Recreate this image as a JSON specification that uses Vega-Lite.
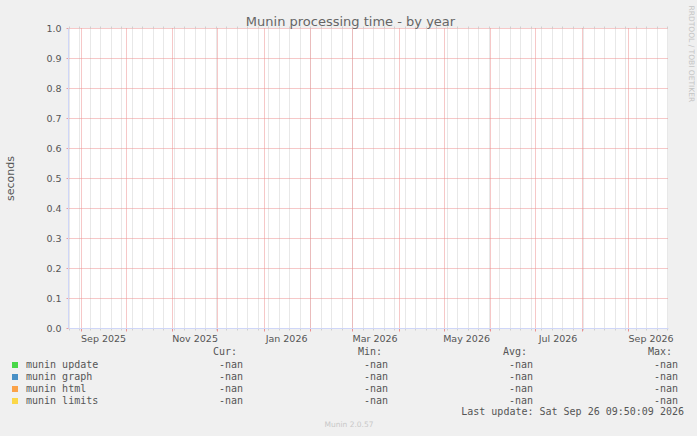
{
  "$schema": "https://vega.github.io/schema/vega-lite/v6.json",
  "background": "#f0f0f0",
  "padding": {"left": 4, "top": 5, "right": 12, "bottom": 12},
  "autosize": {"type": "pad"},
  "bounds": "flush",
  "spacing": 18,
  "config": {
    "font": "DejaVu Sans",
    "view": {"stroke": null},
    "axis": {"labelFont": "DejaVu Sans", "titleFont": "DejaVu Sans"}
  },
  "vconcat": [
    {
      "width": 600,
      "height": 300,
      "view": {"fill": "#ffffff", "stroke": null},
      "data": {
        "values": [
          {"t": "2026-09-26T09:50:09Z", "series": "munin update", "value": null},
          {"t": "2026-09-26T09:50:09Z", "series": "munin graph", "value": null},
          {"t": "2026-09-26T09:50:09Z", "series": "munin html", "value": null},
          {"t": "2026-09-26T09:50:09Z", "series": "munin limits", "value": null}
        ]
      },
      "resolve": {"axis": {"x": "independent", "y": "independent"}},
      "layer": [
        {
          "mark": {"type": "square", "filled": true},
          "encoding": {
            "x": {
              "field": "t",
              "type": "temporal",
              "scale": {
                "type": "utc",
                "domain": [
                  {"year": 2025, "month": 8, "date": 23, "hours": 14, "minutes": 50, "seconds": 9, "utc": true},
                  {"year": 2026, "month": 9, "date": 27, "hours": 14, "minutes": 50, "seconds": 9, "utc": true}
                ]
              },
              "axis": {
                "orient": "bottom",
                "tickCount": {"interval": "week", "step": 1},
                "labels": false,
                "ticks": true,
                "tickSize": 2,
                "tickColor": "#d0d0d0",
                "domain": false,
                "grid": true,
                "gridColor": "#d0d0d0",
                "gridDash": [1, 1],
                "title": null
              }
            },
            "y": {
              "field": "value",
              "type": "quantitative",
              "scale": {"domain": [0, 1], "nice": false, "zero": true},
              "axis": {
                "orient": "left",
                "values": [0, 0.1, 0.2, 0.3, 0.4, 0.5, 0.6, 0.7, 0.8, 0.9, 1.0],
                "format": ".1f",
                "labelFontSize": 9.5,
                "labelColor": "#555555",
                "labelPadding": 5,
                "tickSize": 2,
                "tickColor": "#e8a0a0",
                "domainColor": "#cfd6f8",
                "grid": true,
                "gridColor": "#ec9090",
                "gridDash": [1, 1],
                "title": "seconds",
                "titleFontSize": 11,
                "titleFontWeight": "normal",
                "titleColor": "#555555",
                "titleAngle": -90,
                "titleAlign": "center",
                "titleBaseline": "middle",
                "titleX": -57.5,
                "titleY": 150
              }
            },
            "color": {
              "field": "series",
              "type": "nominal",
              "scale": {
                "domain": ["munin update", "munin graph", "munin html", "munin limits"],
                "range": ["#00cc00", "#0066b3", "#ff8000", "#ffcc00"]
              },
              "legend": {
                "orient": "none",
                "legendX": -58,
                "legendY": 332,
                "title": null,
                "padding": 0,
                "direction": "vertical",
                "symbolType": "square",
                "symbolSize": 36,
                "symbolStrokeWidth": 0,
                "labelFont": "DejaVu Sans Mono",
                "labelFontSize": 10,
                "labelColor": "#555555",
                "labelOffset": 6,
                "rowPadding": 2
              }
            }
          }
        },
        {
          "mark": {"type": "square", "filled": true},
          "encoding": {
            "x": {
              "field": "t",
              "type": "temporal",
              "axis": {
                "orient": "bottom",
                "tickCount": {"interval": "month", "step": 1},
                "labels": false,
                "ticks": true,
                "tickSize": 3,
                "tickColor": "#ec9090",
                "domain": false,
                "grid": true,
                "gridColor": "#ec9090",
                "gridDash": [1, 1],
                "title": null
              }
            },
            "y": {
              "field": "value",
              "type": "quantitative",
              "axis": {
                "orient": "right",
                "labels": false,
                "ticks": false,
                "domain": false,
                "grid": false,
                "title": "RRDTOOL / TOBI OETIKER",
                "titleAngle": 90,
                "titleFontSize": 7.5,
                "titleFontWeight": "normal",
                "titleColor": "#c4c4c4",
                "titleAlign": "left",
                "titleBaseline": "middle",
                "titleX": 22,
                "titleY": -23
              }
            }
          }
        },
        {
          "mark": {"type": "square", "filled": true},
          "encoding": {
            "x": {
              "field": "t",
              "type": "temporal",
              "axis": {
                "orient": "bottom",
                "values": [
                  {"year": 2025, "month": 9, "date": 16, "utc": true},
                  {"year": 2025, "month": 11, "date": 16, "utc": true},
                  {"year": 2026, "month": 1, "date": 16, "utc": true},
                  {"year": 2026, "month": 3, "date": 16, "utc": true},
                  {"year": 2026, "month": 5, "date": 16, "utc": true},
                  {"year": 2026, "month": 7, "date": 16, "utc": true},
                  {"year": 2026, "month": 9, "date": 16, "utc": true}
                ],
                "labelExpr": "utcFormat(datum.value, '%b %Y')",
                "ticks": false,
                "labelPadding": 5,
                "labelFontSize": 9.5,
                "labelColor": "#555555",
                "labelFlush": false,
                "labelOverlap": false,
                "domain": true,
                "domainColor": "#cfd6f8",
                "grid": false,
                "title": null
              }
            },
            "y": {"field": "value", "type": "quantitative", "axis": null}
          }
        },
        {
          "mark": {"type": "square", "filled": true},
          "encoding": {
            "x": {
              "field": "t",
              "type": "temporal",
              "axis": {
                "orient": "top",
                "tickCount": {"interval": "week", "step": 1},
                "labels": false,
                "ticks": true,
                "tickSize": 2,
                "tickColor": "#d0d0d0",
                "domain": false,
                "grid": false,
                "title": "Munin processing time - by year",
                "titleFontSize": 13,
                "titleFontWeight": "normal",
                "titleColor": "#666666",
                "titleAlign": "center",
                "titleBaseline": "alphabetic",
                "titleX": 282,
                "titleY": -3
              }
            },
            "y": {"field": "value", "type": "quantitative", "axis": null}
          }
        }
      ]
    },
    {
      "width": 600,
      "height": 72,
      "title": {
        "text": "Munin 2.0.57",
        "orient": "bottom",
        "frame": "group",
        "anchor": "middle",
        "dx": -19,
        "offset": 3,
        "fontSize": 7.5,
        "fontWeight": "normal",
        "color": "#c8c8c8"
      },
      "data": {
        "values": [
          {"row": "head", "stat": "Cur", "text": "Cur:"},
          {"row": "head", "stat": "Min", "text": "Min:"},
          {"row": "head", "stat": "Avg", "text": "Avg:"},
          {"row": "head", "stat": "Max", "text": "Max:"},
          {"row": "munin update", "stat": "Cur", "text": "-nan"},
          {"row": "munin update", "stat": "Min", "text": "-nan"},
          {"row": "munin update", "stat": "Avg", "text": "-nan"},
          {"row": "munin update", "stat": "Max", "text": "-nan"},
          {"row": "munin graph", "stat": "Cur", "text": "-nan"},
          {"row": "munin graph", "stat": "Min", "text": "-nan"},
          {"row": "munin graph", "stat": "Avg", "text": "-nan"},
          {"row": "munin graph", "stat": "Max", "text": "-nan"},
          {"row": "munin html", "stat": "Cur", "text": "-nan"},
          {"row": "munin html", "stat": "Min", "text": "-nan"},
          {"row": "munin html", "stat": "Avg", "text": "-nan"},
          {"row": "munin html", "stat": "Max", "text": "-nan"},
          {"row": "munin limits", "stat": "Cur", "text": "-nan"},
          {"row": "munin limits", "stat": "Min", "text": "-nan"},
          {"row": "munin limits", "stat": "Avg", "text": "-nan"},
          {"row": "munin limits", "stat": "Max", "text": "-nan"},
          {"row": "foot", "stat": "Max", "text": "Last update: Sat Sep 26 09:50:09 2026"}
        ]
      },
      "encoding": {
        "x": {
          "field": "stat",
          "type": "nominal",
          "scale": {"type": "point", "domain": ["Cur", "Min", "Avg", "Max"], "range": [175, 610], "padding": 0},
          "axis": null
        },
        "y": {
          "field": "row",
          "type": "nominal",
          "scale": {
            "type": "band",
            "domain": ["head", "munin update", "munin graph", "munin html", "munin limits", "foot"],
            "paddingInner": 0,
            "paddingOuter": 0
          },
          "axis": null
        },
        "text": {"field": "text"}
      },
      "layer": [
        {
          "transform": [{"filter": "datum.row == 'head'"}],
          "mark": {"type": "text", "align": "right", "baseline": "middle", "dx": -6, "font": "DejaVu Sans Mono", "fontSize": 10, "color": "#555555"}
        },
        {
          "transform": [{"filter": "datum.row != 'head' && datum.row != 'foot'"}],
          "mark": {"type": "text", "align": "right", "baseline": "middle", "dy": 1, "font": "DejaVu Sans Mono", "fontSize": 10, "color": "#555555"}
        },
        {
          "transform": [{"filter": "datum.row == 'foot'"}],
          "mark": {"type": "text", "align": "right", "baseline": "middle", "dx": 6, "font": "DejaVu Sans Mono", "fontSize": 10, "color": "#555555"}
        }
      ]
    }
  ]
}
